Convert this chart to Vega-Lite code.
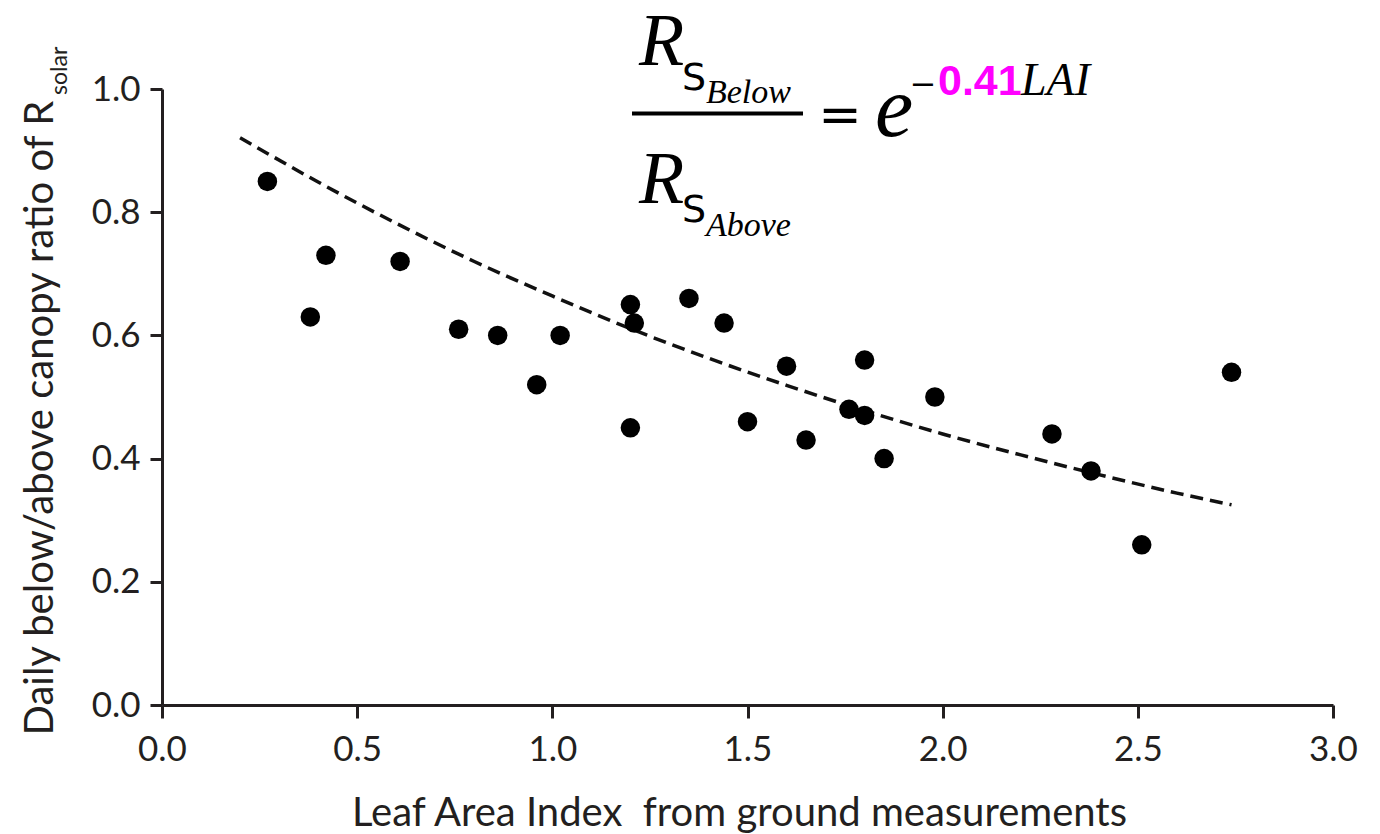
{
  "$schema": "https://vega.github.io/schema/vega-lite/v6.json",
  "width": 1171,
  "height": 616,
  "autosize": {"type": "none"},
  "padding": {"left": 162, "top": 89, "right": 47, "bottom": 129},
  "background": "white",
  "config": {"view": {"stroke": null}, "font": "Lato"},
  "datasets": {
    "points": [
      {"lai": 0.27, "ratio": 0.85},
      {"lai": 0.38, "ratio": 0.63},
      {"lai": 0.42, "ratio": 0.73},
      {"lai": 0.61, "ratio": 0.72},
      {"lai": 0.76, "ratio": 0.61},
      {"lai": 0.86, "ratio": 0.60},
      {"lai": 0.96, "ratio": 0.52},
      {"lai": 1.02, "ratio": 0.60},
      {"lai": 1.20, "ratio": 0.65},
      {"lai": 1.21, "ratio": 0.62},
      {"lai": 1.20, "ratio": 0.45},
      {"lai": 1.35, "ratio": 0.66},
      {"lai": 1.44, "ratio": 0.62},
      {"lai": 1.50, "ratio": 0.46},
      {"lai": 1.60, "ratio": 0.55},
      {"lai": 1.65, "ratio": 0.43},
      {"lai": 1.76, "ratio": 0.48},
      {"lai": 1.80, "ratio": 0.56},
      {"lai": 1.80, "ratio": 0.47},
      {"lai": 1.85, "ratio": 0.40},
      {"lai": 1.98, "ratio": 0.50},
      {"lai": 2.28, "ratio": 0.44},
      {"lai": 2.38, "ratio": 0.38},
      {"lai": 2.51, "ratio": 0.26},
      {"lai": 2.74, "ratio": 0.54}
    ],
    "curve": [
      {"lai": 0.2, "ratio": 0.921},
      {"lai": 0.4, "ratio": 0.849},
      {"lai": 0.6, "ratio": 0.782},
      {"lai": 0.8, "ratio": 0.720},
      {"lai": 1.0, "ratio": 0.664},
      {"lai": 1.2, "ratio": 0.611},
      {"lai": 1.4, "ratio": 0.563},
      {"lai": 1.6, "ratio": 0.519},
      {"lai": 1.8, "ratio": 0.478},
      {"lai": 2.0, "ratio": 0.440},
      {"lai": 2.2, "ratio": 0.406},
      {"lai": 2.4, "ratio": 0.374},
      {"lai": 2.6, "ratio": 0.344},
      {"lai": 2.74, "ratio": 0.325}
    ],
    "eq": [
      {"part": "R", "label": "R", "lai": 1.2218, "ratio": 1.039},
      {"part": "R", "label": "R", "lai": 1.2218, "ratio": 0.8149},
      {"part": "S", "label": "S", "lai": 1.3322, "ratio": 0.9984},
      {"part": "S", "label": "S", "lai": 1.3322, "ratio": 0.7841},
      {"part": "sub", "label": "Below", "lai": 1.3937, "ratio": 0.9773},
      {"part": "sub", "label": "Above", "lai": 1.3937, "ratio": 0.7614},
      {"part": "eqsign", "label": "=", "lai": 1.737, "ratio": 0.93},
      {"part": "e", "label": "e", "lai": 1.8267, "ratio": 0.9237},
      {"part": "minus", "label": "\u2212", "lai": 1.9497, "ratio": 0.99},
      {"part": "coef", "label": "0.41", "lai": 1.988, "ratio": 0.9903},
      {"part": "lai", "label": "LAI", "lai": 2.2007, "ratio": 0.9903},
      {"part": "solar", "label": "solar", "lai": -0.2434, "ratio": 0.9903}
    ],
    "bar": [
      {"lai": 1.2041, "lai2": 1.6422, "ratio": 0.9602}
    ]
  },
  "encoding": {
    "x": {
      "field": "lai", "type": "quantitative",
      "scale": {"domain": [0, 3], "nice": false, "zero": false},
      "axis": {
        "values": [0, 0.5, 1, 1.5, 2, 2.5, 3], "format": ".1f", "grid": false,
        "domainColor": "#231f20", "domainWidth": 3, "tickColor": "#231f20", "tickWidth": 3, "tickSize": 13,
        "labelFont": "Lato", "labelFontSize": 35, "labelColor": "#231f20", "labelPadding": 14, "labelFlush": false,
        "title": "Leaf Area Index\u00a0 from ground measurements",
        "titleFont": "Lato", "titleFontSize": 40, "titleFontWeight": "normal", "titleColor": "#231f20",
        "titleX": 577, "titleY": 120, "titleAlign": "center", "titleBaseline": "alphabetic"
      }
    },
    "y": {
      "field": "ratio", "type": "quantitative",
      "scale": {"domain": [0, 1], "nice": false, "zero": false},
      "axis": {
        "values": [0, 0.2, 0.4, 0.6, 0.8, 1.0], "format": ".1f", "grid": false,
        "domainColor": "#231f20", "domainWidth": 3, "tickColor": "#231f20", "tickWidth": 3, "tickSize": 12,
        "labelFont": "Lato", "labelFontSize": 35, "labelColor": "#231f20", "labelPadding": 10, "labelFlush": false,
        "title": "Daily below/above canopy ratio of R",
        "titleFont": "Lato", "titleFontSize": 40, "titleFontWeight": "normal", "titleColor": "#231f20",
        "titleAngle": 270, "titleX": -110, "titleY": 646, "titleAlign": "left", "titleBaseline": "alphabetic"
      }
    }
  },
  "layer": [
    {
      "data": {"name": "curve"},
      "mark": {"type": "line", "color": "#111111", "strokeWidth": 3.5, "strokeDash": [13, 7], "interpolate": "monotone"}
    },
    {
      "data": {"name": "points"},
      "mark": {"type": "circle", "color": "#000000", "opacity": 1, "size": 380}
    },
    {
      "data": {"name": "bar"},
      "mark": {"type": "rule", "color": "#000000", "strokeWidth": 4},
      "encoding": {
        "x2": {"field": "lai2"}
      }
    },
    {
      "data": {"name": "eq"},
      "transform": [{"filter": "datum.part === 'R'"}],
      "mark": {"type": "text", "font": "Liberation Serif", "fontStyle": "italic", "fontSize": 74, "align": "left", "baseline": "alphabetic", "color": "#000000"},
      "encoding": {"text": {"field": "label"}}
    },
    {
      "data": {"name": "eq"},
      "transform": [{"filter": "datum.part === 'S'"}],
      "mark": {"type": "text", "font": "DejaVu Sans", "fontSize": 38, "align": "left", "baseline": "alphabetic", "color": "#000000"},
      "encoding": {"text": {"field": "label"}}
    },
    {
      "data": {"name": "eq"},
      "transform": [{"filter": "datum.part === 'sub'"}],
      "mark": {"type": "text", "font": "Liberation Serif", "fontStyle": "italic", "fontSize": 34, "align": "left", "baseline": "alphabetic", "color": "#000000"},
      "encoding": {"text": {"field": "label"}}
    },
    {
      "data": {"name": "eq"},
      "transform": [{"filter": "datum.part === 'eqsign'"}],
      "mark": {"type": "text", "font": "DejaVu Sans", "fontSize": 52, "align": "center", "baseline": "alphabetic", "color": "#000000"},
      "encoding": {"text": {"field": "label"}}
    },
    {
      "data": {"name": "eq"},
      "transform": [{"filter": "datum.part === 'e'"}],
      "mark": {"type": "text", "font": "Liberation Serif", "fontStyle": "italic", "fontSize": 86, "align": "left", "baseline": "alphabetic", "color": "#000000"},
      "encoding": {"text": {"field": "label"}}
    },
    {
      "data": {"name": "eq"},
      "transform": [{"filter": "datum.part === 'minus'"}],
      "mark": {"type": "text", "font": "DejaVu Sans", "fontSize": 32, "align": "center", "baseline": "alphabetic", "color": "#000000"},
      "encoding": {"text": {"field": "label"}}
    },
    {
      "data": {"name": "eq"},
      "transform": [{"filter": "datum.part === 'coef'"}],
      "mark": {"type": "text", "font": "Liberation Sans", "fontWeight": "bold", "fontSize": 43, "align": "left", "baseline": "alphabetic", "color": "#ff00ff"},
      "encoding": {"text": {"field": "label"}}
    },
    {
      "data": {"name": "eq"},
      "transform": [{"filter": "datum.part === 'lai'"}],
      "mark": {"type": "text", "font": "Liberation Serif", "fontStyle": "italic", "fontSize": 46, "align": "left", "baseline": "alphabetic", "color": "#000000"},
      "encoding": {"text": {"field": "label"}}
    },
    {
      "data": {"name": "eq"},
      "transform": [{"filter": "datum.part === 'solar'"}],
      "mark": {"type": "text", "font": "Lato", "fontSize": 23, "angle": 270, "align": "left", "baseline": "alphabetic", "color": "#231f20"},
      "encoding": {"text": {"field": "label"}}
    }
  ]
}
